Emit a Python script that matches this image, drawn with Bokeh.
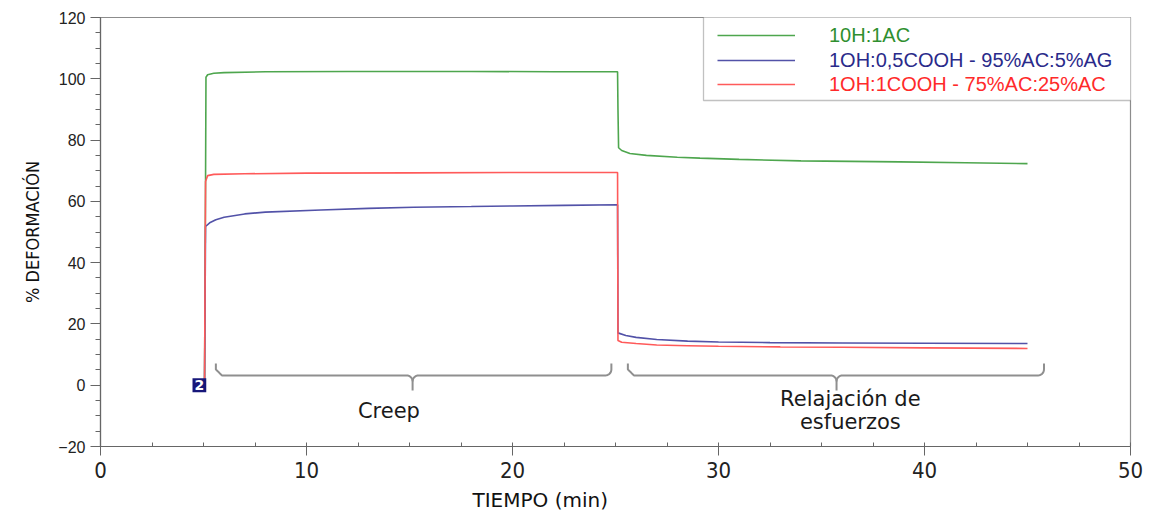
from bokeh.plotting import figure
from bokeh.models import (Range1d, FixedTicker, Legend, LegendItem, BoxAnnotation, Title)
from bokeh.core.properties import value
from bokeh.embed import file_html
from bokeh.resources import INLINE

# ---------------- data ----------------
green_label = "10H:1AC"
blue_label = "1OH:0,5COOH - 95%AC:5%AG"
red_label = "1OH:1COOH - 75%AC:25%AC"

green_t = [5.05, 5.10, 5.12, 5.2, 5.5, 6.0, 8.0, 12.0, 18.0, 22.0, 25.10,
           25.12, 25.15, 25.3, 25.7, 26.5, 28.0, 29.1, 31.0, 34.0, 38.8, 42.0, 45.0]
green_y = [0.0, 67.0, 100.5, 101.3, 101.8, 102.0, 102.3, 102.4, 102.4, 102.3, 102.3,
           90.0, 77.5, 76.6, 75.6, 75.0, 74.4, 74.1, 73.7, 73.2, 72.9, 72.6, 72.3]

blue_t = [5.05, 5.10, 5.3, 5.6, 6.0, 7.0, 8.0, 10.7, 13.0, 15.2, 18.0, 20.0, 22.5, 25.10,
          25.12, 25.15, 25.5, 26.0, 27.0, 28.5, 30.0, 32.5, 36.0, 40.0, 45.0]
blue_y = [0.0, 51.8, 53.0, 54.0, 54.8, 55.9, 56.5, 57.2, 57.7, 58.1, 58.3, 58.5, 58.7, 58.9,
          17.0, 17.0, 16.2, 15.6, 14.9, 14.4, 14.1, 13.9, 13.8, 13.7, 13.6]

red_t = [5.05, 5.10, 5.2, 5.5, 7.0, 10.0, 15.0, 20.0, 25.10,
         25.12, 25.3, 26.0, 27.0, 28.5, 30.0, 33.0, 36.0, 40.0, 45.0]
red_y = [0.0, 66.5, 68.4, 68.8, 69.0, 69.2, 69.3, 69.4, 69.4,
         14.6, 14.0, 13.6, 13.1, 12.9, 12.7, 12.5, 12.4, 12.2, 12.0]

x_ticks = [0, 10, 20, 30, 40, 50]
y_ticks = [-20, 0, 20, 40, 60, 80, 100, 120]

marker_x = [4.8]
marker_y = [0.0]
marker_text = ["2"]

brace_start = [5.6, 25.6]
brace_end = [24.8, 45.8]
brace_mid = [15.15, 35.73]

annot_text = ["Creep", "Relajación de", "esfuerzos"]
annot_x = [14.0, 36.4, 36.4]
annot_y = [-8.3, -4.6, -12.1]

x_title = "TIEMPO (min)"
y_title = "% DEFORMACIÓN"

# ---------------- figure ----------------
W, H = 1151, 516
ML, MR, MT, MB = 100, 21, 17, 70
X0, X1, Y0, Y1 = 0, 50, -20, 120

p = figure(width=W, height=H, output_backend="svg", toolbar_location=None,
           x_range=Range1d(X0, X1), y_range=Range1d(Y0, Y1),
           min_border_left=ML, min_border_right=MR, min_border_top=MT, min_border_bottom=MB,
           background_fill_color="white", border_fill_color="white")
p.grid.visible = False
p.outline_line_color = "#8c8c8c"
p.outline_line_width = 1.2

# axes
xa = p.xaxis[0]
xa.ticker = FixedTicker(ticks=x_ticks, minor_ticks=[i * 2.5 for i in range(21)])
xa.major_label_text_font = "Liberation Sans Narrow, DejaVu Sans Condensed, sans-serif"
xa.major_label_text_font_size = "22px"
xa.major_label_text_color = "#222222"
xa.major_label_standoff = 6
xa.axis_line_color = "#666666"
xa.axis_line_width = 1.2
xa.major_tick_line_color = "#666666"
xa.minor_tick_line_color = "#666666"
xa.major_tick_out = 9
xa.major_tick_in = 0
xa.minor_tick_out = 0
xa.minor_tick_in = 4

ya = p.yaxis[0]
ya.ticker = FixedTicker(ticks=y_ticks, minor_ticks=list(range(-20, 121, 5)))
ya.axis_label = y_title
ya.axis_label_text_font = "Liberation Sans Narrow, DejaVu Sans Condensed, sans-serif"
ya.axis_label_text_font_size = "18px"
ya.axis_label_text_font_style = "normal"
ya.axis_label_text_color = "#111111"
ya.axis_label_standoff = 12
ya.major_label_text_font = "Liberation Sans"
ya.major_label_text_font_size = "16px"
ya.major_label_text_color = "#222222"
ya.major_label_standoff = 5
ya.axis_line_color = "#666666"
ya.axis_line_width = 1.2
ya.major_tick_line_color = "#666666"
ya.minor_tick_line_color = "#666666"
ya.major_tick_out = 10
ya.major_tick_in = 0
ya.minor_tick_out = 5
ya.minor_tick_in = 0

# x-axis title, placed left of centre as in the original
p.add_layout(Title(text=x_title, align="left", offset=372, standoff=10,
                   text_font="DejaVu Sans", text_font_size="20px",
                   text_font_style="normal", text_color="#111111"), "below")

# series
rg = p.line(green_t, green_y, line_color="#4ea64e", line_width=1.6)
rb = p.line(blue_t, blue_y, line_color="#5252a8", line_width=1.6)
rr = p.line(red_t, red_y, line_color="#ff5a5a", line_width=1.6)

# braces (built in pixel space from the span ends)
fw = W - ML - MR
fh = H - MT - MB
sx = (X1 - X0) / fw     # data per px
sy = (Y1 - Y0) / fh

def brace(xa_, xb_, xm_):
    import math
    yh = 3.2
    tip = 12 * sy
    r_px = 6
    xs, ys = [], []
    xs.append(xa_); ys.append(yh + tip)
    for k in range(0, 9):
        a = math.pi / 2 * k / 8
        xs.append(xa_ + (r_px - r_px * math.cos(a)) * sx)
        ys.append(yh + r_px * math.sin(math.pi / 2 - a) * sy)
    for k in range(0, 9):
        a = math.pi / 2 * k / 8
        xs.append(xm_ - r_px * sx + r_px * math.sin(a) * sx)
        ys.append(yh - (r_px - r_px * math.cos(a)) * sy)
    xs.append(xm_); ys.append(yh - 15 * sy)
    xs2, ys2 = [xm_], [yh - r_px * sy]
    for k in range(0, 9):
        a = math.pi / 2 * k / 8
        xs2.append(xm_ + (r_px - r_px * math.cos(a)) * sx)
        ys2.append(yh - r_px * sy + r_px * math.sin(a) * sy)
    for k in range(0, 9):
        a = math.pi / 2 * k / 8
        xs2.append(xb_ - r_px * sx + r_px * math.sin(a) * sx)
        ys2.append(yh + (r_px - r_px * math.cos(a)) * sy)
    xs2.append(xb_); ys2.append(yh + tip)
    return [xs, xs2], [ys, ys2]

bx, by = [], []
for a_, b_, m_ in zip(brace_start, brace_end, brace_mid):
    xs_, ys_ = brace(a_, b_, m_)
    bx += xs_
    by += ys_
p.multi_line(bx, by, line_color="#8f8f8f", line_width=2)

p.text(annot_x, annot_y, text=annot_text, text_font=value("DejaVu Sans"),
       text_font_size="21px", text_align="center", text_baseline="middle",
       text_color="#1a1a1a")

# marker "2"
p.text(marker_x, marker_y, text=marker_text, text_font=value("DejaVu Sans"),
       text_font_size="14px", text_font_style="bold", text_align="center",
       text_baseline="middle", text_color="white",
       background_fill_color="#17177a", padding=2)

# legend box + three single-item legends (each with its own text colour)
box = BoxAnnotation(left=603, right=1031, bottom=346, top=433,
                    left_units="screen", right_units="screen",
                    bottom_units="screen", top_units="screen",
                    fill_color="white", fill_alpha=1.0,
                    line_color="#333333", line_width=1.3, level="annotation")
p.add_layout(box)

rows = [(rg, green_label, "#2f8f2f", 399), (rb, blue_label, "#2a2a8a", 374),
        (rr, red_label, "#ff2a2a", 350)]
for r, lab, col, vy in rows:
    lg = Legend(items=[LegendItem(label=lab, renderers=[r])], location=(617, vy),
                padding=0, margin=0, spacing=0, glyph_width=78, glyph_height=24,
                label_height=24, label_standoff=34,
                label_text_font="Liberation Sans", label_text_font_size="20px",
                label_text_color=col, border_line_alpha=0, background_fill_alpha=0)
    p.add_layout(lg)

open("out.html", "w").write(file_html(p, INLINE))
